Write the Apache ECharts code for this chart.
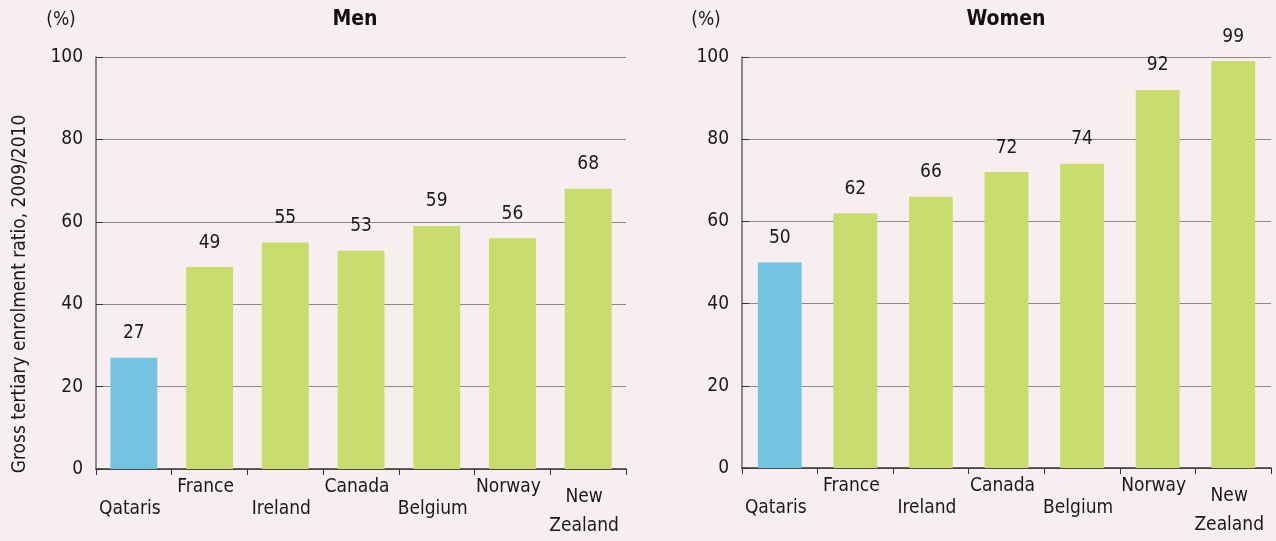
<!DOCTYPE html>
<html>
<head>
<meta charset="utf-8">
<script src="https://cdn.jsdelivr.net/npm/echarts@6/dist/echarts.min.js"></script>
<style>
html,body{margin:0;padding:0;background:#f7eef0;}
#c{width:1276px;height:541px;}
</style>
</head>
<body>
<div id="c"></div>
<script>
const categories = ['Qataris', 'France', 'Ireland', 'Canada', 'Belgium', 'Norway', 'New Zealand'];
const menValues = [27, 49, 55, 53, 59, 56, 68];
const womenValues = [50, 62, 66, 72, 74, 92, 99];
const highlightCategory = 'Qataris';
const titles = ['Men', 'Women'];
const yAxisTitle = 'Gross tertiary enrolment ratio, 2009/2010';
const unitLabel = '(%)';

const FONT = '"DejaVu Sans Condensed", "DejaVu Sans", sans-serif';
const GREEN = '#c9dc6e';
const BLUE = '#73c4e1';
const TXT = '#1a1a1a';

function barData(vals) {
  return vals.map((v, i) => ({
    value: v,
    itemStyle: { color: categories[i] === highlightCategory ? BLUE : GREEN }
  }));
}

function xLabelFormatter(name, idx) {
  if (idx % 2 === 1) return '{t|' + name + '}';
  if (name.indexOf(' ') > 0) {
    const parts = name.split(' ');
    return '{sp2| }\n{nz|' + parts[0] + '}\n{nz|' + parts.slice(1).join(' ') + '}';
  }
  return '{sp| }\n{t|' + name + '}';
}

const labelRich = {
  t: { fontSize: 19, lineHeight: 22, color: TXT, fontFamily: FONT },
  sp: { fontSize: 10, lineHeight: 22 },
  sp2: { fontSize: 6, lineHeight: 7 },
  nz: { fontSize: 19, lineHeight: 29, color: TXT, fontFamily: FONT }
};

function xAxis(gi) {
  return {
    type: 'category', gridIndex: gi, data: categories,
    axisLine: { lineStyle: { color: '#333', width: 1.5 } },
    axisTick: { show: true, length: 6, lineStyle: { color: '#333' } },
    axisLabel: { interval: 0, margin: 7, formatter: xLabelFormatter, rich: labelRich, fontFamily: FONT, padding: [0, 8, 0, 0] }
  };
}
function yAxis(gi) {
  return {
    type: 'value', gridIndex: gi, min: 0, max: 100, interval: 20,
    axisLine: { show: true, lineStyle: { color: '#666', width: 1.5 } },
    axisTick: { show: true, inside: true, length: 7, lineStyle: { color: '#333' } },
    axisLabel: { fontSize: 19, color: TXT, margin: 13, fontFamily: FONT },
    splitLine: { show: true, lineStyle: { color: '#8a8a8a', width: 1 } }
  };
}
function series(gi, vals, bw) {
  return {
    type: 'bar', xAxisIndex: gi, yAxisIndex: gi, data: barData(vals),
    barWidth: bw,
    label: { show: true, position: 'top', distance: 15, fontSize: 19, color: TXT, fontFamily: FONT },
    animation: false
  };
}

const chart = echarts.init(document.getElementById('c'), null, { renderer: 'canvas' });
chart.setOption({
  backgroundColor: '#f7eef0',
  animation: false,
  grid: [
    { left: 96, right: 650, top: 57, bottom: 72 },
    { left: 742, right: 5, top: 57, bottom: 73 }
  ],
  xAxis: [xAxis(0), xAxis(1)],
  yAxis: [yAxis(0), yAxis(1)],
  series: [series(0, menValues, '62%'), series(1, womenValues, '58%')],
  graphic: [
    { type: 'text', x: 355, y: 20, style: { text: titles[0], font: 'bold 21px ' + FONT, fill: '#111', align: 'center', verticalAlign: 'middle' } },
    { type: 'text', x: 1006, y: 20, style: { text: titles[1], font: 'bold 21px ' + FONT, fill: '#111', align: 'center', verticalAlign: 'middle' } },
    { type: 'text', x: 61, y: 20, style: { text: unitLabel, font: '19px ' + FONT, fill: TXT, align: 'center', verticalAlign: 'middle' } },
    { type: 'text', x: 706, y: 20, style: { text: unitLabel, font: '19px ' + FONT, fill: TXT, align: 'center', verticalAlign: 'middle' } },
    { type: 'text', x: 20, y: 294, rotation: Math.PI / 2,
      style: { text: yAxisTitle, font: '19px ' + FONT, fill: TXT, align: 'center', verticalAlign: 'middle' } }
  ]
});
</script>
</body>
</html>
